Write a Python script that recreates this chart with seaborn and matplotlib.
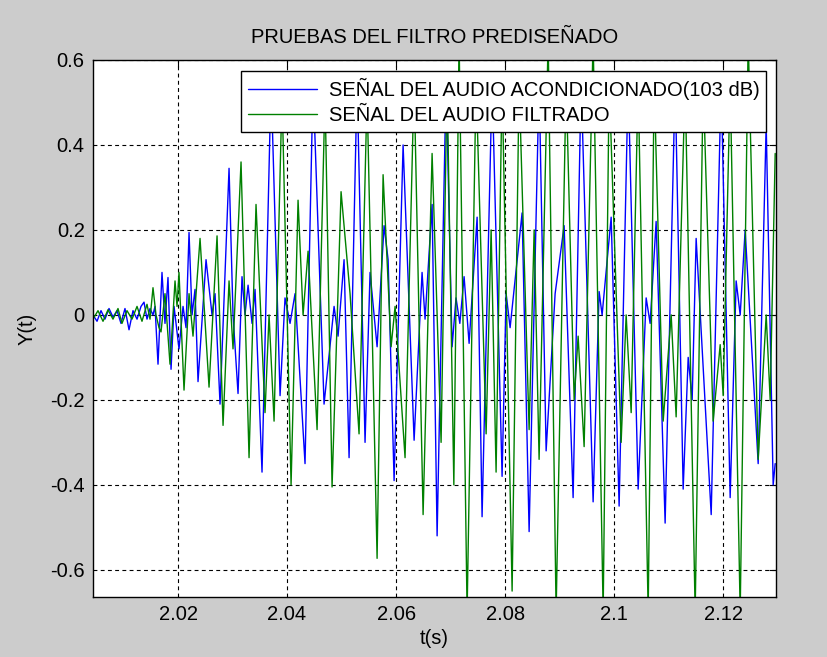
import numpy as np
import pandas as pd
import matplotlib
matplotlib.use("Agg")
import matplotlib.pyplot as plt
import seaborn as sns

# ---- data (time in ms after 2.0 s, amplitude) ----
t_blue_ms = [4.40, 5.14, 5.87, 6.60, 7.34, 8.07, 8.81, 9.54, 10.27, 11.01, 11.74, 12.48, 13.21, 13.76,
             14.31, 14.86, 15.41, 15.78, 16.33, 17.06, 17.61, 18.16, 18.72, 19.27, 20.18, 20.92, 21.47,
             22.02, 22.57, 23.12, 23.67, 25.14, 26.24, 26.79, 27.71, 29.36, 30.09, 31.01, 31.74, 32.29,
             32.85, 33.58, 34.13, 35.41, 37.07, 38.72, 39.63, 40.55, 41.47, 43.30, 44.77, 46.79, 48.63,
             49.36, 50.46, 51.38, 52.85, 54.31, 55.23, 56.52, 57.80, 58.54, 59.64, 61.29, 62.02, 63.31,
             64.77, 65.32, 66.61, 67.53, 69.18, 70.28, 71.00, 71.70, 72.48, 73.40, 74.87, 75.78, 77.62,
             79.45, 80.19, 80.92, 83.12, 84.41, 86.24, 87.53, 89.18, 90.83, 92.48, 93.95, 96.15, 97.25,
             97.80, 99.46, 100.92, 102.58, 104.41, 105.88, 106.61, 107.71, 109.36, 111.20, 112.67, 113.59,
             114.32, 115.05, 117.81, 119.64, 121.29, 122.39, 123.13, 124.04, 126.43, 127.90, 129.18, 129.55]
y_blue = [0.0, -0.015, 0.01, -0.01, 0.015, -0.005, 0.01, -0.02, 0.015, -0.035, 0.01, -0.01, 0.02, 0.03,
          -0.01, 0.015, 0.0, 0.02, -0.116, 0.10, -0.02, 0.088, -0.128, 0.02, -0.08, 0.02, -0.03,
          0.194, 0.0, 0.06, -0.157, 0.13, 0.0, 0.05, -0.21, 0.345, 0.0, -0.185, 0.09, 0.0,
          0.07, -0.02, 0.06, -0.37, 0.55, -0.19, 0.04, -0.02, 0.05, -0.35, 0.55, -0.21, 0.02,
          -0.05, 0.13, -0.336, 0.55, -0.30, 0.10, -0.075, 0.21, 0.13, -0.39, 0.40, 0.15, -0.295,
          0.10, -0.01, 0.26, -0.52, 0.55, -0.075, 0.04, -0.02, 0.09, -0.067, 0.23, -0.475, 0.55,
          -0.38, 0.05, -0.03, 0.24, -0.51, 0.55, -0.32, 0.05, 0.21, -0.43, 0.55, -0.44, 0.055,
          0.0, 0.23, -0.45, 0.55, -0.41, 0.04, -0.02, 0.22, -0.49, 0.55, -0.41, -0.10,
          -0.20, 0.18, -0.47, 0.55, -0.43, 0.08, 0.0, 0.20, -0.35, 0.45, -0.40, -0.35]

t_green_ms = [4.40, 5.32, 6.24, 7.15, 8.07, 8.99, 9.72, 10.64, 11.56, 12.48, 13.39, 14.31, 14.86, 15.41,
              15.96, 16.51, 16.88, 17.61, 18.53, 19.45, 19.82, 20.18, 21.10, 22.02, 22.75, 24.04, 25.69,
              27.16, 28.26, 29.36, 30.09, 31.56, 33.03, 34.31, 35.96, 36.70, 37.62, 39.08, 40.74, 42.02,
              42.94, 43.86, 45.51, 46.97, 48.26, 49.91, 51.56, 53.21, 54.68, 56.52, 57.62, 59.09, 59.82,
              61.65, 63.31, 64.96, 66.61, 68.26, 69.36, 70.60, 71.56, 73.03, 74.68, 76.52, 77.44, 78.35,
              79.45, 81.29, 82.57, 84.41, 85.33, 86.24, 87.90, 89.36, 91.20, 92.67, 93.40, 94.50, 96.15,
              97.99, 99.09, 101.29, 102.21, 103.13, 104.41, 106.25, 107.35, 109.00, 110.47, 111.38, 113.03,
              114.87, 116.34, 118.17, 119.46, 120.01, 121.29, 123.13, 124.60, 126.43, 127.90, 128.63, 129.55]
y_green = [-0.01, 0.01, -0.015, 0.012, -0.01, 0.015, -0.02, 0.01, -0.01, 0.02, -0.015, 0.025, -0.01, 0.064,
           0.0, -0.03, -0.04, 0.05, -0.116, 0.08, 0.02, 0.10, -0.177, 0.05, -0.05, 0.18, -0.17,
           0.186, -0.26, 0.08, -0.08, 0.36, -0.336, 0.26, -0.23, 0.0, -0.25, 0.52, -0.40, 0.27,
           0.0, 0.15, -0.27, 0.52, -0.405, 0.29, 0.05, -0.28, 0.52, -0.573, 0.33, -0.075, 0.02,
           -0.336, 0.55, -0.47, 0.38, -0.30, 0.55, -0.40, 0.65, -0.70, 0.55, -0.28, 0.20, -0.37,
           0.55, -0.65, 0.55, -0.27, 0.20, -0.34, 0.65, -0.70, 0.55, -0.20, -0.05, -0.31, 0.65,
           -0.70, 0.55, -0.30, 0.0, -0.23, 0.55, -0.70, 0.55, -0.25, 0.0, -0.24, 0.55,
           -0.70, 0.55, -0.25, -0.07, -0.19, 0.55, -0.70, 0.65, -0.34, 0.0, -0.20, 0.38]

label_blue = "SEÑAL DEL AUDIO ACONDICIONADO(103 dB)"
label_green = "SEÑAL DEL AUDIO FILTRADO"
x_ticks = [2.02, 2.04, 2.06, 2.08, 2.1, 2.12]
x_tick_labels = ["2.02", "2.04", "2.06", "2.08", "2.1", "2.12"]
y_ticks = [-0.6, -0.4, -0.2, 0.0, 0.2, 0.4, 0.6]
y_tick_labels = ["-0.6", "-0.4", "-0.2", "0", "0.2", "0.4", "0.6"]

df = pd.concat([
    pd.DataFrame({"t": 2.0 + np.array(t_blue_ms) / 1000.0, "y": y_blue, "serie": label_blue}),
    pd.DataFrame({"t": 2.0 + np.array(t_green_ms) / 1000.0, "y": y_green, "serie": label_green}),
], ignore_index=True)

sns.set_style("white")
plt.rcParams["font.family"] = ["Liberation Sans", "DejaVu Sans"]
plt.rcParams["text.color"] = "black"
plt.rcParams["axes.labelcolor"] = "black"

fig = plt.figure(figsize=(8.28, 6.57), dpi=100, facecolor="#cccccc")
ax = fig.add_axes([0.1123, 0.0913, 0.8249, 0.8174])
ax.set_facecolor("white")

sns.lineplot(data=df, x="t", y="y", hue="serie", palette={label_blue: "#0000ff", label_green: "#008000"},
             estimator=None, sort=False, linewidth=1.0, ax=ax)

ax.set_xlim(2.0044, 2.1297)
ax.set_ylim(-0.664, 0.6)
ax.set_xticks(x_ticks)
ax.set_xticklabels(x_tick_labels)
ax.set_yticks(y_ticks)
ax.set_yticklabels(y_tick_labels)
ax.tick_params(direction="in", length=5, width=0.8, top=True, right=True, labelsize=14.5,
               colors="black", labelcolor="black", pad=6)
ax.grid(True, color="black", linestyle=(0, (3.5, 3)), linewidth=0.8)
ax.set_axisbelow(True)
for s in ax.spines.values():
    s.set_color("black")
    s.set_linewidth(1.0)

ax.set_title("PRUEBAS DEL FILTRO PREDISEÑADO", fontsize=14.5, pad=12, color="black")
ax.set_xlabel("t(s)", fontsize=14.5, labelpad=3, color="black")
ax.set_ylabel("Y(t)", fontsize=14.5, labelpad=10, color="black")

leg = ax.legend(loc="upper right", bbox_to_anchor=(0.986, 0.979), borderaxespad=0, fontsize=14.5,
                frameon=True, fancybox=False, framealpha=1, edgecolor="black", handlelength=3.4,
                borderpad=0.35, labelspacing=0.3, handletextpad=0.6)
leg.get_frame().set_linewidth(1.0)
for txt in leg.get_texts():
    txt.set_color("black")
leg.set_zorder(10)

fig.savefig("out.png", dpi=100, facecolor=fig.get_facecolor())
